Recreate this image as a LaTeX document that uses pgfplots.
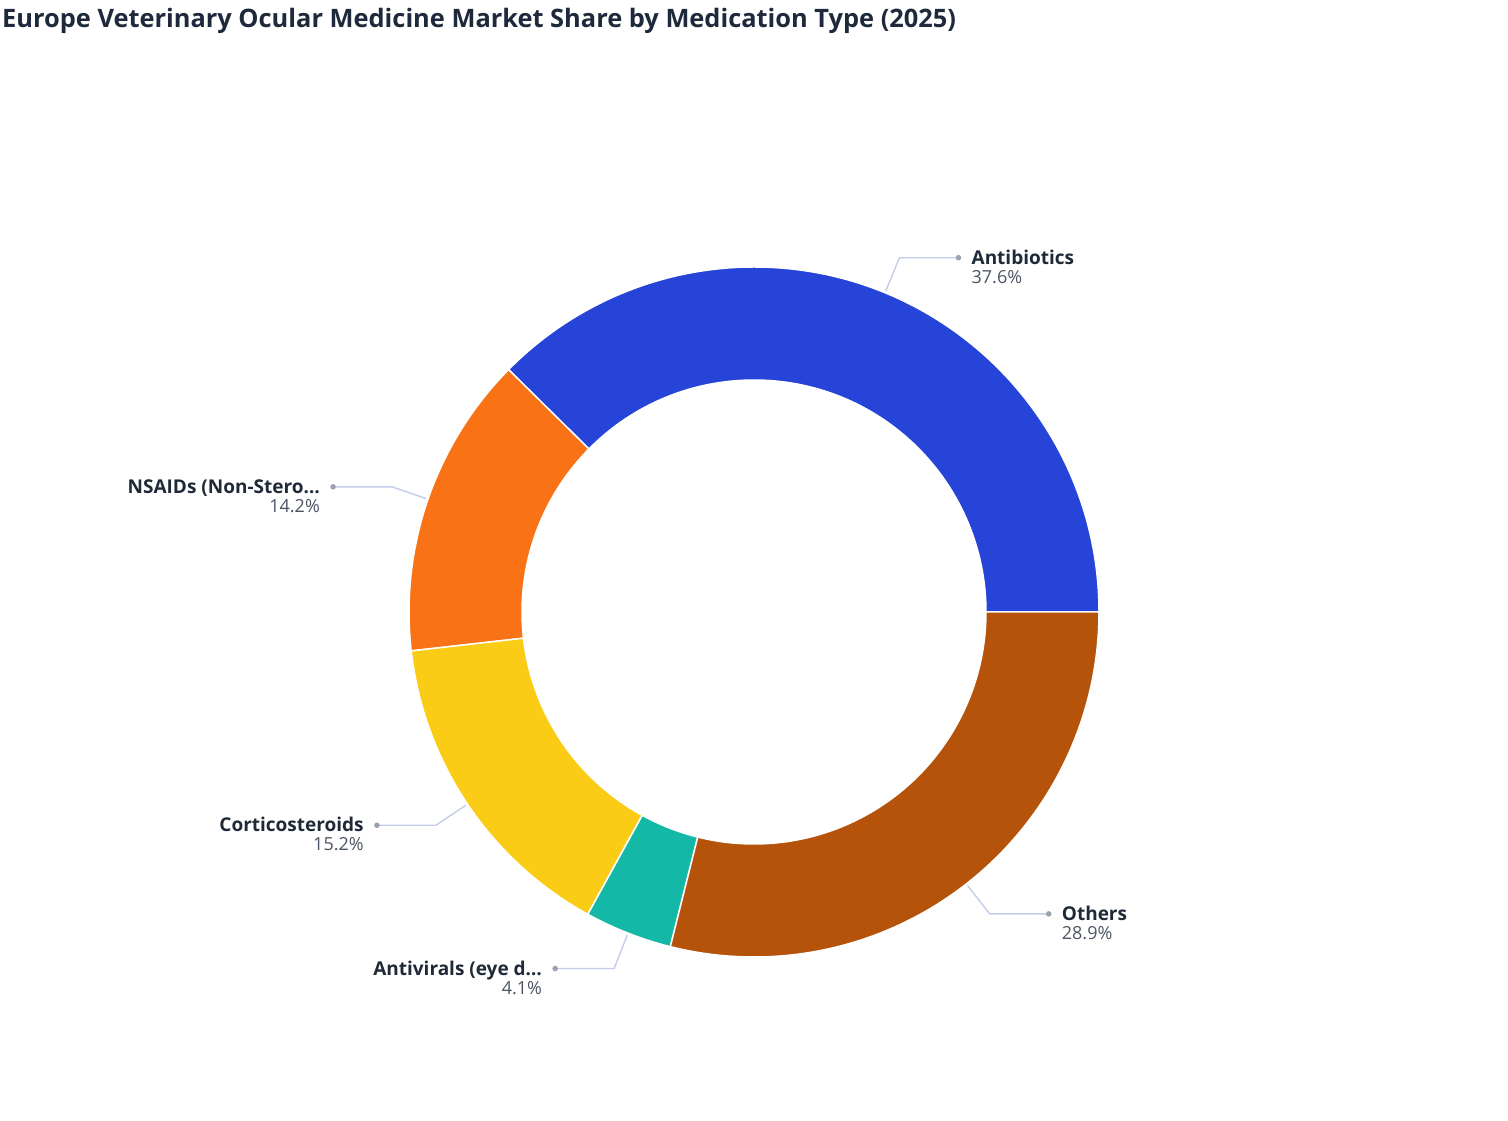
\documentclass[border=0pt]{standalone}
\usepackage{fontspec}
\setmainfont{Open Sans}
\usepackage{pgfplots}
\usepackage{pgfplotstable}
\pgfplotsset{compat=1.18}

\definecolor{cAnti}{HTML}{2744D9}
\definecolor{cNsaid}{HTML}{F97316}
\definecolor{cCort}{HTML}{FACC15}
\definecolor{cViral}{HTML}{14B8A6}
\definecolor{cOther}{HTML}{B45309}
\definecolor{cTitle}{HTML}{1E293B}
\definecolor{cName}{HTML}{1F2937}
\definecolor{cPct}{HTML}{4B5563}
\definecolor{cLine}{HTML}{C3CDEA}
\definecolor{cDot}{HTML}{9CA3AF}

% share in percent, slices run counter-clockwise from 3 o'clock
\pgfplotstableread[col sep=comma]{
label,share,color
Antibiotics,37.6,cAnti
NSAIDs (Non-Stero…,14.2,cNsaid
Corticosteroids,15.2,cCort
Antivirals (eye d…,4.1,cViral
Others,28.9,cOther
}\sharetable

\begin{document}
\begin{tikzpicture}
\begin{axis}[
    x=1pt, y=1pt,
    xmin=0, xmax=1508, ymin=0, ymax=1120,
    hide axis, clip=false, disabledatascaling,
  ]
  \pgfplotstablegetrowsof{\sharetable}
  \pgfmathtruncatemacro\nrows{\pgfplotsretval-1}
  \def\acc{0}
  \pgfplotsforeachungrouped \i in {0,...,\nrows}{%
    \pgfplotstablegetelem{\i}{share}\of\sharetable \let\share\pgfplotsretval
    \pgfplotstablegetelem{\i}{label}\of\sharetable \let\lab\pgfplotsretval
    \pgfplotstablegetelem{\i}{color}\of\sharetable \let\col\pgfplotsretval
    \pgfmathsetmacro\aone{\acc}
    \pgfmathsetmacro\atwo{\acc+3.6*\share}
    \pgfmathsetmacro\amid{(\aone+\atwo)/2}
    \pgfmathtruncatemacro\side{cos(\amid)>0 ? 1 : -1}
    \pgfmathsetmacro\dx{\side*59}
    \pgfmathsetmacro\tx{\side*72}
    \ifnum\side>0 \def\anch{base west}\else\def\anch{base east}\fi
    % slice
    \edef\temp{\noexpand\fill[\col, draw=white, line width=1.5pt]
      ([shift={(\aone:345pt)}]axis cs:754,508)
      arc[start angle=\aone, end angle=\atwo, radius=345pt]
      -- ([shift={(\atwo:232pt)}]axis cs:754,508)
      arc[start angle=\atwo, end angle=\aone, radius=232pt] -- cycle;}
    \temp
    % leader line and dot
    \edef\temp{\noexpand\draw[cLine, line width=1.4pt]
      ([shift={(\amid:347pt)}]axis cs:754,508)
      -- ([shift={(\amid:383pt)}]axis cs:754,508) -- ++(\dx pt,0);
      \noexpand\fill[cDot] ([shift={(\amid:383pt)}]axis cs:754,508)
      ++(\dx pt,0) circle[radius=2.8pt];}
    \temp
    % label
    \edef\temp{\noexpand\node[anchor=\anch, inner sep=0pt, text=cName,
        font=\noexpand\fontsize{19}{22}\noexpand\selectfont\noexpand\bfseries]
      at ([shift={(\amid:383pt)}, xshift=\tx pt, yshift=-6.6pt]axis cs:754,508)
      {\lab};
      \noexpand\node[anchor=\anch, inner sep=0pt, text=cPct,
        font=\noexpand\fontsize{18}{21}\noexpand\selectfont]
      at ([shift={(\amid:383pt)}, xshift=\tx pt, yshift=-25.6pt]axis cs:754,508)
      {\share\noexpand\%};}
    \temp
    \let\acc\atwo
  }
  \node[anchor=base west, inner sep=0pt, text=cTitle,
    font=\fontsize{25.4}{30}\selectfont\bfseries]
    at (axis cs:2,1092.5)
    {Europe Veterinary Ocular Medicine Market Share by Medication Type (2025)};
\end{axis}
\pgfresetboundingbox
\path[use as bounding box] (current axis.south west) rectangle (current axis.north east);
\end{tikzpicture}
\end{document}
